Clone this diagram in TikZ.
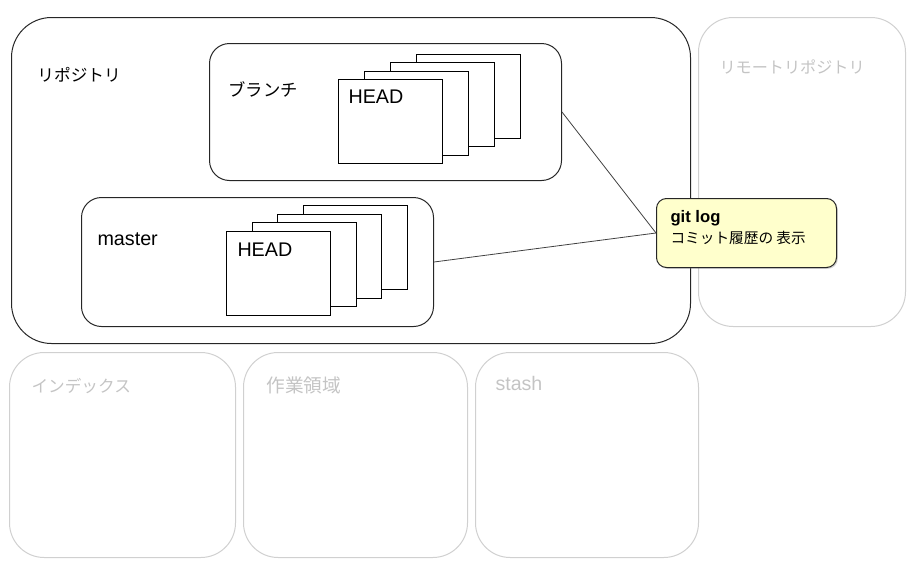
\documentclass[tikz,border=0pt]{standalone}
\usepackage{fontspec}
\setmainfont{Liberation Sans}
\newfontfamily\jp{Noto Sans CJK JP}
\usetikzlibrary{positioning,shadows}

\definecolor{areagray}{RGB}{208,208,208}
\definecolor{textgray}{RGB}{196,196,196}
\definecolor{notefill}{RGB}{255,255,204}

\begin{document}
\begin{tikzpicture}[x=0.75pt,y=-0.75pt,line width=0.75pt]
	\tikzstyle{area}=[draw=areagray,rounded corners=26pt,anchor=north west,inner sep=0pt]
	\tikzstyle{repobox}=[draw=black!85,rounded corners=30pt,anchor=north west,inner sep=0pt]
	\tikzstyle{refbox}=[draw=black!85,rounded corners=15pt,anchor=north west,inner sep=0pt]
	\tikzstyle{page}=[draw,fill=white,anchor=north west,inner sep=0pt,minimum width=78pt,minimum height=63pt]
	\tikzstyle{label}=[anchor=base west,inner sep=0pt,font=\jp\fontsize{12.5}{14}\selectfont]
	\tikzstyle{headlabel}=[anchor=base west,inner sep=0pt,font=\fontsize{14.8}{17}\selectfont]
	\tikzstyle{note}=[draw=black!85,fill=notefill,rounded corners=7.5pt,anchor=north west,inner sep=0pt,
		minimum width=135pt,minimum height=51.75pt,drop shadow={shadow xshift=1pt,shadow yshift=-1pt,opacity=0.35}]

	\useasboundingbox (0,0) rectangle (922,579);

	% areas
	\node[repobox,minimum width=509.25pt,minimum height=244.5pt] (repo) at (11,17) {};
	\node[area,minimum width=155.25pt,minimum height=231.75pt] (remote) at (698,17) {};
	\node[area,minimum width=169.5pt,minimum height=153.75pt] (index) at (9,352) {};
	\node[area,minimum width=168pt,minimum height=153.75pt] (work) at (243,352) {};
	\node[area,minimum width=167.25pt,minimum height=153.75pt] (stash) at (475,352) {};

	\node[label] (repolabel) at (37,81) {リポジトリ};
	\node[label,text=textgray,font=\jp\fontsize{12.1}{14}\selectfont] (remotelabel) at (719,73) {リモートリポジトリ};
	\node[label,text=textgray] (indexlabel) at (31,392) {インデックス};
	\node[label,text=textgray,font=\jp\fontsize{14}{16}\selectfont] (worklabel) at (266,392) {作業領域};
	\node[label,text=textgray,font=\fontsize{14.7}{17}\selectfont] (stashlabel) at (495,390) {stash};

	% branch
	\node[refbox,minimum width=264pt,minimum height=102.75pt] (branch) at (209,43) {};
	\node[label,font=\jp\fontsize{13}{15}\selectfont] (branchlabel) at (228,96) {ブランチ};
	\foreach \i in {3,2,1}
		\node[page] (bpage\i) at (338+26*\i,79-8.5*\i) {};
	\node[page] (bhead) at (338,79) {};
	\node[headlabel] (bheadlabel) at (348,103) {HEAD};

	% master
	\node[refbox,minimum width=264pt,minimum height=96.75pt] (master) at (81,197) {};
	\node[headlabel] (masterlabel) at (97,245) {master};
	\foreach \i in {3,2,1}
		\node[page] (mpage\i) at (226+25.7*\i,231-8.7*\i) {};
	\node[page] (mhead) at (226,231) {};
	\node[headlabel] (mheadlabel) at (237,256) {HEAD};

	% command
	\node[note] (gitlog) at (656,198) {};
	\node[anchor=base west,inner sep=0pt,font=\bfseries\fontsize{12.5}{14}\selectfont] (cmd) at (670,222) {git log};
	\node[anchor=base west,inner sep=0pt,font=\jp\fontsize{11}{13}\selectfont] (cmddesc) at (670,243) {コミット履歴の 表示};

	\draw[black!75,line width=0.6pt] (branch.east) -- (gitlog.west);
	\draw[black!75,line width=0.6pt] (master.east) -- (gitlog.west);
\end{tikzpicture}
\end{document}
